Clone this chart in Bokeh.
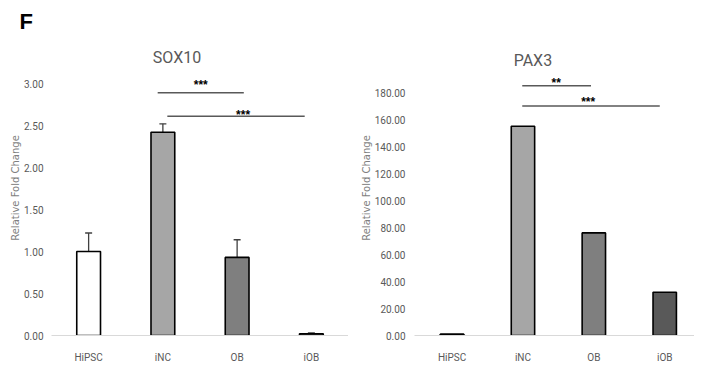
from bokeh.plotting import figure
from bokeh.models import ColumnDataSource, Whisker, Label, FixedTicker, Range1d, NumeralTickFormatter, TeeHead, Title, Spacer
from bokeh.layouts import row
from bokeh.embed import file_html
from bokeh.resources import INLINE

categories = ["HiPSC", "iNC", "OB", "iOB"]
bar_colors = ["#ffffff", "#a6a6a6", "#7f7f7f", "#595959"]

sox10_values = [1.00, 2.42, 0.93, 0.02]
sox10_err_low = [0.78, 2.30, 0.70, 0.01]
sox10_err_high = [1.22, 2.52, 1.14, 0.03]
sox10_ticks = [0.0, 0.5, 1.0, 1.5, 2.0, 2.5, 3.0]
# significance brackets
sox10_sig_x0 = [0.93, 1.06]
sox10_sig_x1 = [2.09, 2.91]
sox10_sig_y = [2.89, 2.61]
sox10_star_x = [1.51, 2.08]
sox10_star_y = [2.98, 2.63]
sox10_star_text = ["***", "***"]

pax3_values = [1.0, 155.0, 76.0, 32.0]
pax3_ticks = [0, 20, 40, 60, 80, 100, 120, 140, 160, 180]
pax3_sig_x0 = [0.99, 0.99]
pax3_sig_x1 = [1.96, 2.93]
pax3_sig_y = [185.0, 170.0]
pax3_star_x = [1.47, 1.92]
pax3_star_y = [187.4, 172.6]
pax3_star_text = ["**", "***"]

TICK_FONT = "Roboto"
GREY = "#595959"
TOP = 40


def make_panel(title, values, ticks, y_end, x_start, x_end, width, border_left,
               sig, err=None, bar_w=0.32, title_pos=(1.2, 0), label_std=(7, 4)):
    idx = list(range(len(categories)))
    src = ColumnDataSource(dict(x=idx, top=values, color=bar_colors))
    p = figure(width=width, height=366, output_backend="svg", toolbar_location=None,
               x_range=Range1d(x_start, x_end), y_range=Range1d(0, y_end),
               min_border_left=border_left, min_border_right=0, min_border_top=TOP,
               min_border_bottom=31)
    p.outline_line_color = None
    p.xgrid.grid_line_color = None
    p.ygrid.grid_line_color = None
    p.vbar(x="x", top="top", width=bar_w, fill_color="color", line_color="black",
           line_width=1.6, source=src)
    if err is not None:
        esrc = ColumnDataSource(dict(x=idx, lower=err[0], upper=err[1]))
        w = Whisker(source=esrc, base="x", lower="lower", upper="upper",
                    line_color="#404040", line_width=1.3,
                    upper_head=TeeHead(size=7, line_color="#404040", line_width=1.3),
                    lower_head=TeeHead(size=7, line_color="#404040", line_width=1.3))
        p.add_layout(w)
    x0, x1, ly, sx, sy, st = sig
    p.segment(x0=x0, x1=x1, y0=ly, y1=ly, line_color="#595959", line_width=1.4)
    for xx, yy, tt in zip(sx, sy, st):
        p.add_layout(Label(x=xx, y=yy, text=tt, text_align="center", text_baseline="alphabetic",
                           text_font="Liberation Sans", text_font_style="bold",
                           text_font_size="12px", text_color="black"))
    p.add_layout(Label(x=title_pos[0], y=title_pos[1], text=title, text_align="center",
                       text_baseline="middle", text_font=TICK_FONT,
                       text_font_size="16px", text_color=GREY))

    xa = p.xaxis[0]
    xa.ticker = FixedTicker(ticks=idx)
    xa.major_label_overrides = {i: c for i, c in zip(idx, categories)}
    xa.axis_line_color = "#d9d9d9"
    xa.axis_line_width = 1.2
    xa.major_tick_line_color = None
    xa.minor_tick_line_color = None
    xa.major_label_standoff = 10
    xa.major_label_text_font = TICK_FONT
    xa.major_label_text_font_size = "10px"
    xa.major_label_text_color = GREY

    ya = p.yaxis[0]
    ya.ticker = FixedTicker(ticks=ticks)
    ya.formatter = NumeralTickFormatter(format="0.00")
    ya.axis_line_color = None
    ya.major_tick_line_color = None
    ya.minor_tick_line_color = None
    ya.major_tick_in = 0
    ya.major_tick_out = 0
    ya.major_label_standoff = label_std[0]
    ya.major_label_text_font = TICK_FONT
    ya.major_label_text_font_size = "10px"
    ya.major_label_text_color = GREY
    ya.axis_label = "Relative Fold Change"
    ya.axis_label_text_font = "DejaVu Sans"
    ya.axis_label_text_font_style = "normal"
    ya.axis_label_text_font_size = "10px"
    ya.axis_label_text_color = "#7f7f7f"
    ya.axis_label_standoff = label_std[1]
    return p


# frame spans page y 48..343 -> 295 px
p1 = make_panel("SOX10", sox10_values, sox10_ticks, 295 / 84.0, -0.5, 3.5, 341, 30,
                (sox10_sig_x0, sox10_sig_x1, sox10_sig_y, sox10_star_x, sox10_star_y, sox10_star_text),
                err=(sox10_err_low, sox10_err_high), bar_w=0.32, title_pos=(1.19, 3.31),
                label_std=(8, 0))
p1.add_layout(Title(text="F", align="left", offset=-32, vertical_align="top",
                    text_font="Liberation Sans", text_font_style="bold",
                    text_font_size="22px", text_color="black"), "above")

p2 = make_panel("PAX3", pax3_values, pax3_ticks, 295 / 1.35, -0.53, 3.42, 337, 40,
                (pax3_sig_x0, pax3_sig_x1, pax3_sig_y, pax3_star_x, pax3_star_y, pax3_star_text),
                err=None, bar_w=0.33, title_pos=(1.14, 203.7), label_std=(9, 0))

layout = row(Spacer(width=7, height=10), p1, Spacer(width=9, height=10), p2)
open("out.html", "w").write(file_html(layout, INLINE))
